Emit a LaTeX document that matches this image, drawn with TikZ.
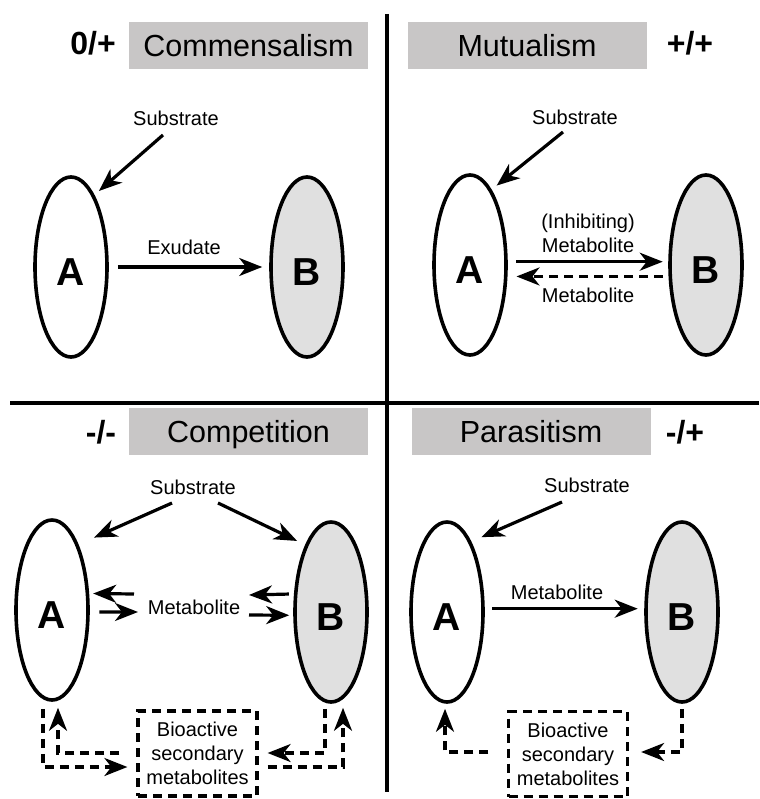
\documentclass[tikz,border=0pt]{standalone}
\usepackage{fontspec}
\setmainfont{Liberation Sans}
\usetikzlibrary{arrows.meta,shapes.geometric}

\definecolor{titlegray}{RGB}{200,198,198}
\definecolor{cellgray}{RGB}{224,224,224}

\tikzset{
  cell/.style={ellipse, draw, line width=3.6pt, minimum width=72pt, minimum height=180pt,
    inner sep=0pt, text height=36pt, text depth=0pt, font=\fontsize{39}{42}\selectfont\bfseries},
  cellA/.style={cell, fill=white},
  cellB/.style={cell, fill=cellgray},
  title/.style={fill=titlegray, minimum width=239pt, minimum height=47pt, inner sep=0pt,
    text height=21.5pt, text depth=0pt, font=\fontsize{30.5}{34}\selectfont},
  sign/.style={inner sep=0pt, text height=23pt, text depth=0pt, font=\fontsize{32}{36}\selectfont\bfseries},
  lbl/.style={inner sep=0pt, align=center, font=\fontsize{20}{23}\selectfont},
  arr/.style={line width=3.2pt, -{Stealth[length=23pt,width=18pt,inset=7pt]}},
  darr/.style={arr, dash pattern=on 9pt off 6pt},
  bio/.style={draw, line width=3.2pt, dash pattern=on 9pt off 6pt, minimum width=119pt,
    minimum height=85pt, inner sep=0pt, align=center, font=\fontsize{20}{24}\selectfont},
  divider/.style={line width=3.4pt},
}

\begin{document}
\begin{tikzpicture}[x=1pt,y=-1pt]
\useasboundingbox (0,0) rectangle (759,799);

% quadrant dividers
\draw[divider] (387,14) -- (387,792);
\draw[divider] (10,403) -- (759,403);

% ---------- Commensalism ----------
\node[sign]  (s1) at (93,43) {0/+};
\node[title] (t1) at (248.5,45.5) {Commensalism};
\node[cellA] (A1) at (71,267) {A};
\node[cellB] (B1) at (307,267) {B};
\node[lbl]   (sub1) at (176,118) {Substrate};
\node[lbl]   (exu) at (184,247) {Exudate};
\coordinate (c1) at (163,135);
\draw[arr, shorten >=6pt] (c1) -- (A1.72);
\draw[arr, shorten <=9pt, shorten >=7pt] (A1.east) -- (B1.west);

% ---------- Mutualism ----------
\node[title] (t2) at (527,45.5) {Mutualism};
\node[sign]  (s2) at (690,43) {+/+};
\node[cellA] (A2) at (470,265) {A};
\node[cellB] (B2) at (706,265) {B};
\node[lbl]   (sub2) at (575,117) {Substrate};
\node[lbl]   (inh) at (588,223) {(Inhibiting)};
\node[lbl]   (met2a) at (588,245) {Metabolite};
\node[lbl]   (met2b) at (588,295) {Metabolite};
\coordinate (c2) at (563,132);
\draw[arr, shorten >=6.5pt] (c2) -- (A2.74);
\draw[arr, shorten <=8.5pt, shorten >=5.5pt] (A2.5) -- (B2.175);
\draw[darr, shorten <=5.5pt, shorten >=9pt] (B2.197) -- (A2.-17);

% ---------- Competition ----------
\node[sign]  (s3) at (101,432) {-/-};
\node[title] (t3) at (248.5,431.5) {Competition};
\node[cellA] (A3) at (52,610) {A};
\node[cellB] (B3) at (331,612) {B};
\node[lbl]   (sub3) at (193,487) {Substrate};
\node[lbl]   (met3) at (194,607) {Metabolite};
\node[bio]   (bio1) at (197.5,753.5) {Bioactive\\secondary\\metabolites};
\coordinate (c3) at (172,503);
\coordinate (c4) at (218,503);
\draw[arr, shorten >=17pt] (c3) -- (A3.68);
\draw[arr, shorten >=9pt] (c4) -- (B3.111);
\coordinate (m1) at (134,594);
\coordinate (m2) at (138,612);
\coordinate (m3) at (249,595);
\coordinate (m4) at (249,615);
\draw[arr, shorten >=4pt] (m1) -- (A3.24);
\draw[arr, shorten <=9.5pt] (A3.-3) -- (m2);
\draw[arr, shorten <=5pt] (B3.154) -- (m3);
\draw[arr, shorten >=4pt] (m4) -- (B3.185);
\draw[darr, shorten <=7pt, shorten >=9pt] ([xshift=-9pt]A3.south) |- ([yshift=-13.5pt]bio1.west);
\draw[darr, shorten <=17pt, shorten >=6pt] ([yshift=0.5pt]bio1.west) -| ([xshift=6pt]A3.south);
\draw[darr, shorten <=5pt, shorten >=9pt] ([xshift=-6pt]B3.south) |- ([yshift=0.5pt]bio1.east);
\draw[darr, shorten <=9pt, shorten >=4pt] ([yshift=-13.5pt]bio1.east) -| ([xshift=12pt]B3.south);

% ---------- Parasitism ----------
\node[title] (t4) at (531,431.5) {Parasitism};
\node[sign]  (s4) at (685,432) {-/+};
\node[cellA] (A4) at (447,612) {A};
\node[cellB] (B4) at (682,612) {B};
\node[lbl]   (sub4) at (587,485) {Substrate};
\node[lbl]   (met4) at (557,592) {Metabolite};
\node[bio]   (bio2) at (568,754) {Bioactive\\secondary\\metabolites};
\coordinate (c5) at (562,502);
\draw[arr, shorten >=11pt] (c5) -- (A4.71);
\draw[arr, shorten <=7.5pt, shorten >=6.5pt] (A4.5) -- (B4.175);
\draw[darr, shorten <=5pt, shorten >=12pt] (B4.south) |- ([yshift=2pt]bio2.east);
\draw[darr, shorten <=18.5pt, shorten >=5pt] ([yshift=2pt]bio2.west) -| ([xshift=-2pt]A4.south);

\end{tikzpicture}
\end{document}
